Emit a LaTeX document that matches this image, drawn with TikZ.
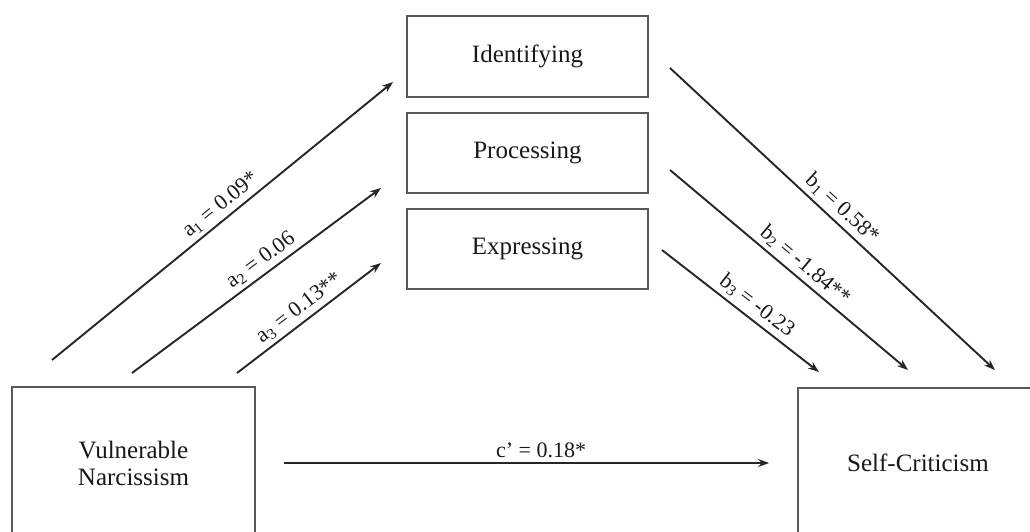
\documentclass[tikz,border=0pt]{standalone}
\usepackage{fontspec}
\setmainfont{Liberation Serif}
\usepackage{tikz}
\usetikzlibrary{arrows.meta, positioning}

\begin{document}
\begin{tikzpicture}[
        x=1pt, y=-1pt,
        % Style for the boxes
        box/.style={
            rectangle,
            draw=black!65,
            line width=1.8pt,
            fill=white,
            align=center,
            inner sep=0pt,
            text=black!90,
            font=\fontsize{25}{27}\selectfont
        },
        % Style for the paths
        path/.style={
            line width=1.9pt,
            draw=black!85,
            -{Stealth[length=11pt, width=8pt]}
        },
        % Style for the coefficients
        coef/.style={
            font=\fontsize{22}{24}\selectfont,
            text=black!90,
            inner sep=4pt
        }
    ]

        \useasboundingbox (0,0) rectangle (1030,531);
        \clip (0,0) rectangle (1030,531);

        % Boxes at coordinates
        \node[box, minimum width=241pt, minimum height=81pt] (ident) at (527.5,56.5) {Identifying};
        \node[box, minimum width=241pt, minimum height=80pt] (proc) at (527.5,153) {Processing};
        \node[box, minimum width=241pt, minimum height=80pt] (expr) at (527.5,249) {Expressing};

        \node[box, minimum width=243pt, minimum height=152pt] (vn) at (133.5,463) {Vulnerable\\Narcissism};
        \node[box, minimum width=240pt, minimum height=150pt] (sc) at (918,463) {Self-Criticism};

        % Free ends of the paths
        \coordinate (a1s) at (52,360);  \coordinate (a1e) at (393,82);
        \coordinate (a2s) at (132,373); \coordinate (a2e) at (381,188);
        \coordinate (a3s) at (237,373); \coordinate (a3e) at (381,263);
        \coordinate (b1s) at (670,68);  \coordinate (b1e) at (995,370);
        \coordinate (b2s) at (670,170); \coordinate (b2e) at (908,370);
        \coordinate (b3s) at (662,250); \coordinate (b3e) at (819,372);
        \coordinate (cs) at ([xshift=28pt]vn.east |- vn.center);
        \coordinate (ce) at ([xshift=-28pt]sc.west |- sc.center);

        % --- PATHS a ---
        \draw[path] (a1s) -- node[coef, sloped, above, pos=0.52] {a\textsubscript{1} = 0.09*} (a1e);
        \draw[path] (a2s) -- node[coef, sloped, above, pos=0.55] {a\textsubscript{2} = 0.06} (a2e);
        \draw[path] (a3s) -- node[coef, sloped, above, pos=0.49] {a\textsubscript{3} = 0.13**} (a3e);

        % --- PATHS b ---
        \draw[path] (b1s) -- node[coef, sloped, above, pos=0.50] {b\textsubscript{1} = 0.58*} (b1e);
        \draw[path] (b2s) -- node[coef, sloped, above, pos=0.53] {b\textsubscript{2} = -1.84**} (b2e);
        \draw[path] (b3s) -- node[coef, sloped, above, pos=0.55] {b\textsubscript{3} = -0.23} (b3e);

        % --- DIRECT PATH ---
        \draw[path] (cs) -- node[coef, above, pos=0.53] {c’ = 0.18*} (ce);

    \end{tikzpicture}
\end{document}
